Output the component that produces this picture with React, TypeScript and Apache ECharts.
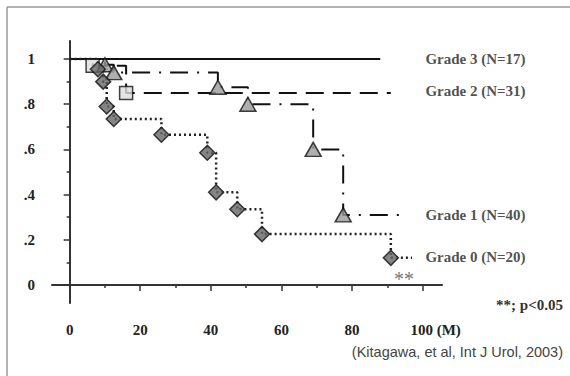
import React, { useEffect, useRef } from "react";
import * as echarts from "echarts";

// Kaplan-Meier step curves: [month, survival]
const grade3Line: [number, number][] = [[0, 1], [88, 1]];
const grade2Line: [number, number][] = [[0, 1], [6.5, 0.97], [16, 0.85], [91, 0.85]];
const grade2Marks: [number, number][] = [[6.5, 0.97], [16, 0.85]];
const grade1Line: [number, number][] = [
  [0, 1], [10, 0.975], [12.5, 0.94], [42, 0.875], [50.5, 0.8], [69, 0.6], [77.5, 0.31], [94, 0.31],
];
const grade1Marks: [number, number][] = [
  [10, 0.975], [12.5, 0.94], [42, 0.875], [50.5, 0.8], [69, 0.6], [77.5, 0.31],
];
const grade0Line: [number, number][] = [
  [0, 1], [8, 0.955], [9.5, 0.9], [10.5, 0.79], [12.5, 0.735], [26, 0.665], [39, 0.585],
  [41.5, 0.41], [47.5, 0.335], [54.5, 0.225], [91, 0.12], [97, 0.12],
];
const grade0Marks: [number, number][] = [
  [8, 0.955], [9.5, 0.9], [10.5, 0.79], [12.5, 0.735], [26, 0.665], [39, 0.585],
  [41.5, 0.41], [47.5, 0.335], [54.5, 0.225], [91, 0.12],
];
const seriesLabels: [number, number, string][] = [
  [100.8, 1.0, "Grade 3 (N=17)"],
  [100.8, 0.858, "Grade 2 (N=31)"],
  [100.8, 0.31, "Grade 1 (N=40)"],
  [100.8, 0.124, "Grade 0 (N=20)"],
];
const xMajorTicks = [0, 20, 40, 60, 80, 100];
const xMinorTicks = [10, 30, 50, 70, 90];
const yMajorTicks = [0, 0.2, 0.4, 0.6, 0.8, 1];
const yMinorTicks = [0.1, 0.3, 0.5, 0.7, 0.9];

const SERIF = "Liberation Serif";

export default function App() {
  const ref = useRef<HTMLDivElement>(null);
  useEffect(() => {
    if (!ref.current) return;
    const chart = echarts.init(ref.current, undefined, { renderer: "svg" });
    const axisCol = "#333";
    const labelStyle = {
      fontFamily: SERIF,
      fontWeight: "bold" as const,
      fontSize: 15,
      color: "#222",
    };
    chart.setOption({
      animation: false,
      backgroundColor: "#fff",
      grid: { left: 52, right: 128, top: 41, bottom: 73, containLabel: false },
      xAxis: [
        {
          type: "value",
          min: -5,
          max: 105.5,
          position: "bottom",
          axisLine: { show: true, lineStyle: { color: axisCol, width: 2 } },
          axisTick: { show: true, customValues: xMajorTicks, length: 6, lineStyle: { color: axisCol, width: 1.5 } },
          axisLabel: {
            show: true,
            customValues: xMajorTicks,
            margin: 19,
            ...labelStyle,
            formatter: (v: number) => (v === 100 ? "{m|100 (M)}" : String(v)),
            rich: { m: { ...labelStyle, padding: [0, 0, 0, 26] } },
          },
          splitLine: { show: false },
        },
        {
          type: "value",
          min: -5,
          max: 105.5,
          position: "bottom",
          offset: 0,
          axisLine: { show: false },
          axisTick: { show: true, customValues: xMinorTicks, length: 3, lineStyle: { color: axisCol, width: 1.5 } },
          axisLabel: { show: false },
          splitLine: { show: false },
        },
      ],
      yAxis: [
        {
          type: "value",
          min: -0.08,
          max: 1.08,
          position: "left",
          axisLine: { show: true, lineStyle: { color: axisCol, width: 2 } },
          axisTick: { show: true, customValues: yMajorTicks, length: 6, lineStyle: { color: axisCol, width: 1.5 } },
          axisLabel: {
            show: true,
            customValues: yMajorTicks,
            margin: 17,
            ...labelStyle,
            formatter: (v: number) =>
              v >= 0.999 ? "1" : v < 0.001 ? "0" : "." + Math.round(v * 10),
          },
          splitLine: { show: false },
        },
        {
          type: "value",
          min: -0.08,
          max: 1.08,
          position: "left",
          offset: 0,
          axisLine: { show: false },
          axisTick: { show: true, customValues: yMinorTicks, length: 3, lineStyle: { color: axisCol, width: 1.5 } },
          axisLabel: { show: false },
          splitLine: { show: false },
        },
      ],
      series: [
        {
          type: "line", step: "end", data: grade3Line, symbol: "none",
          lineStyle: { color: "#111", width: 2 }, z: 2,
        },
        {
          type: "line", step: "end", data: grade2Line, symbol: "none",
          lineStyle: { color: "#111", width: 2, type: [18, 9] }, z: 2,
        },
        {
          type: "line", step: "end", data: grade1Line, symbol: "none",
          lineStyle: { color: "#111", width: 2, type: [18, 9, 2, 9] }, z: 2,
        },
        {
          type: "line", step: "end", data: grade0Line, symbol: "none",
          lineStyle: { color: "#222", width: 2.5, type: [2, 3] }, z: 2,
        },
        {
          type: "scatter", data: grade2Marks, symbol: "rect", symbolSize: 13,
          itemStyle: { color: "#ddd", borderColor: "#111", borderWidth: 1.5 }, z: 3,
        },
        {
          type: "scatter", data: grade1Marks, symbol: "triangle", symbolSize: [16, 14],
          itemStyle: { color: "#9a9a9a", borderColor: "#111", borderWidth: 1.5 }, z: 4,
        },
        {
          type: "scatter", data: grade0Marks, symbol: "diamond", symbolSize: 15,
          itemStyle: { color: "#666", borderColor: "#111", borderWidth: 1.5 }, z: 5,
        },
        {
          type: "scatter",
          data: seriesLabels.map((d) => ({ value: [d[0], d[1]], name: d[2] })),
          symbolSize: 0,
          silent: true,
          label: {
            show: true,
            position: "right",
            distance: 0,
            formatter: (p: any) => p.name,
            ...labelStyle,
            fontSize: 15,
          },
        },
      ],
      graphic: [
        { type: "line", shape: { x1: 7, y1: 7, x2: 570, y2: 7 }, style: { stroke: "#999", lineWidth: 1.5 } },
        { type: "line", shape: { x1: 7, y1: 7, x2: 7, y2: 376 }, style: { stroke: "#999", lineWidth: 1.5 } },
        {
          type: "text", x: 404, y: 279,
          style: {
            text: "**", font: `20px '${SERIF}'`, fill: "#777",
            textAlign: "center", textVerticalAlign: "middle",
          },
        },
        {
          type: "text", x: 563, y: 305,
          style: {
            text: "**; p<0.05", font: `bold 15px '${SERIF}'`, fill: "#333",
            textAlign: "right", textVerticalAlign: "middle",
          },
        },
        {
          type: "text", x: 563, y: 352,
          style: {
            text: "(Kitagawa, et al, Int J Urol, 2003)", font: "14.5px 'Liberation Sans'", fill: "#444",
            textAlign: "right", textVerticalAlign: "middle",
          },
        },
      ],
    });
    return () => chart.dispose();
  }, []);
  return (
    <div
      ref={ref}
      style={{ position: "fixed", left: 0, top: 0, width: 570, height: 376, background: "#fff" }}
    />
  );
}
